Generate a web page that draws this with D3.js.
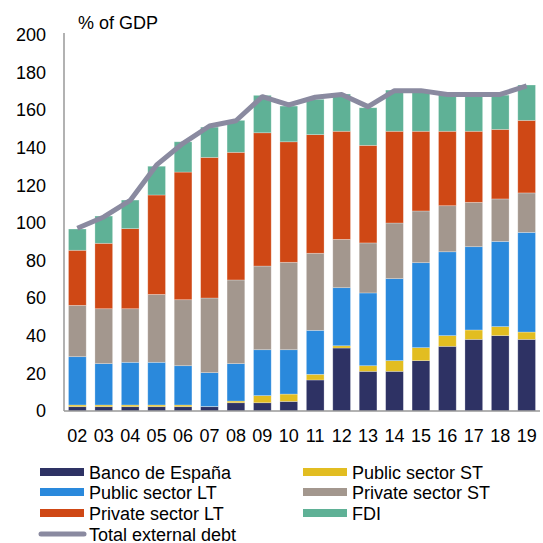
<!DOCTYPE html>
<html>
<head>
<meta charset="utf-8">
<script src="https://cdn.jsdelivr.net/npm/d3@7"></script>
<style>
    body { margin: 0; background: #fff; }
    text { font-family: "Liberation Sans", Arial, sans-serif; fill: #000; }
</style>
</head>
<body>
<div id="chart"></div>
<script>
const years = ['02', '03', '04', '05', '06', '07', '08', '09', '10', '11', '12', '13', '14', '15', '16', '17', '18', '19'];

// each series as its own slice (not cumulative)
const bancoEspana = [2.3, 2.3, 2.3, 2.3, 2.3, 2.3, 4.4, 4.4, 5.1, 16.5, 33.5, 21.1, 21.1, 26.8, 34.4, 38.1, 40.1, 38.1];
const publicST = [0.9, 0.9, 0.9, 0.9, 0.9, 0.1, 0.9, 3.8, 3.9, 3.0, 1.2, 3.0, 5.7, 6.9, 5.7, 5.0, 4.8, 3.9];
const publicLT = [25.7, 22.0, 22.7, 22.7, 20.9, 18.0, 19.9, 24.4, 23.6, 23.4, 30.9, 38.7, 43.6, 45.2, 44.6, 44.3, 45.3, 53.0];
const privateST = [27.3, 29.2, 28.5, 36.1, 35.1, 39.7, 44.5, 44.5, 46.5, 41.0, 25.7, 26.6, 29.6, 27.5, 24.5, 23.6, 22.6, 21.0];
const privateLT = [29.3, 34.8, 42.6, 52.9, 67.9, 74.8, 67.9, 70.9, 64.1, 63.1, 57.5, 51.9, 48.8, 42.4, 39.6, 37.8, 37.0, 38.6];
const fdi = [11.3, 14.5, 15.2, 15.3, 16.1, 16.1, 17.0, 19.9, 19.0, 18.8, 19.8, 20.0, 21.9, 21.9, 19.8, 19.2, 18.2, 18.8];
const totalDebt = [97.2, 103.2, 112.0, 130.9, 142.4, 151.6, 154.4, 167.2, 162.8, 166.9, 168.3, 161.9, 170.4, 170.4, 168.4, 168.4, 168.4, 172.9];

const yTicks = [0, 20, 40, 60, 80, 100, 120, 140, 160, 180, 200];

const series = [
    { key: 'bde', name: 'Banco de España', values: bancoEspana, color: '#2e3264' },
    { key: 'pst', name: 'Public sector ST', values: publicST, color: '#e2bd21' },
    { key: 'plt', name: 'Public sector LT', values: publicLT, color: '#2a89dc' },
    { key: 'prst', name: 'Private sector ST', values: privateST, color: '#a3978e' },
    { key: 'prlt', name: 'Private sector LT', values: privateLT, color: '#cf4815' },
    { key: 'fdi', name: 'FDI', values: fdi, color: '#5fb196' }
];
const lineColor = '#8a8aa0';

const width = 543;
const height = 543;

const table = years.map((yr, i) => {
    const row = { year: yr };
    series.forEach(s => { row[s.key] = s.values[i]; });
    return row;
});

const stacked = d3.stack().keys(series.map(s => s.key))(table);

const xScale = d3.scaleBand()
    .domain(years)
    .range([64, 540])
    .paddingInner(0.33)
    .paddingOuter(0.17);

const yScale = d3.scaleLinear()
    .domain([0, 200])
    .range([411, 35]);

const svg = d3.select('#chart')
    .append('svg')
    .attr('width', width)
    .attr('height', height);

// bars
svg.append('g')
    .selectAll('g')
    .data(stacked)
    .enter()
    .append('g')
        .attr('fill', (d, i) => series[i].color)
    .selectAll('rect')
    .data(d => d)
    .enter()
    .append('rect')
        .attr('x', d => xScale(d.data.year))
        .attr('y', d => yScale(d[1]))
        .attr('width', xScale.bandwidth())
        .attr('height', d => yScale(d[0]) - yScale(d[1]))
        .attr('stroke', '#fff')
        .attr('stroke-opacity', 0.35)
        .attr('stroke-width', 0.75);

// axes
const yAxis = svg.append('g')
    .attr('transform', 'translate(64, 0)')
    .call(d3.axisLeft(yScale).tickValues(yTicks).tickSize(0).tickPadding(18));
yAxis.select('.domain').attr('stroke', '#999').attr('stroke-width', 1.5).attr('d', `M0,${yScale(0)}V33`);
yAxis.selectAll('text').style('font-size', '18px').style('font-family', '"Liberation Sans", Arial, sans-serif');

const xAxis = svg.append('g')
    .attr('transform', `translate(0, ${yScale(0)})`)
    .call(d3.axisBottom(xScale).tickSize(0).tickPadding(18));
xAxis.select('.domain').attr('stroke', '#999').attr('stroke-width', 1.5).attr('d', 'M64,0H540');
xAxis.selectAll('text').style('font-size', '18px').style('font-family', '"Liberation Sans", Arial, sans-serif');

// total line
const line = d3.line()
    .x((d, i) => xScale(years[i]) + xScale.bandwidth() / 2)
    .y(d => yScale(d));

svg.append('path')
    .datum(totalDebt)
    .attr('fill', 'none')
    .attr('stroke', lineColor)
    .attr('stroke-width', 5)
    .attr('stroke-linejoin', 'round')
    .attr('d', line);

svg.append('text')
    .attr('x', 78)
    .attr('y', 29)
    .style('font-size', '18px')
    .text('% of GDP');

// legend
const legendPos = [
    [40, 472], [303, 472],
    [40, 492], [303, 492],
    [40, 513], [303, 513]
];
const legend = svg.append('g');
series.forEach((s, i) => {
    const [lx, ly] = legendPos[i];
    legend.append('rect')
        .attr('x', lx)
        .attr('y', ly - 4)
        .attr('width', 44)
        .attr('height', 8)
        .attr('fill', s.color);
    legend.append('text')
        .attr('x', lx + 49)
        .attr('y', ly + 6.5)
        .style('font-size', '18px')
        .text(s.name);
});
legend.append('line')
    .attr('x1', 41).attr('x2', 84)
    .attr('y1', 534).attr('y2', 534)
    .attr('stroke', lineColor)
    .attr('stroke-width', 5)
    .attr('stroke-linecap', 'round');
legend.append('text')
    .attr('x', 89)
    .attr('y', 540.5)
    .style('font-size', '18px')
    .text('Total external debt');
</script>
</body>
</html>
